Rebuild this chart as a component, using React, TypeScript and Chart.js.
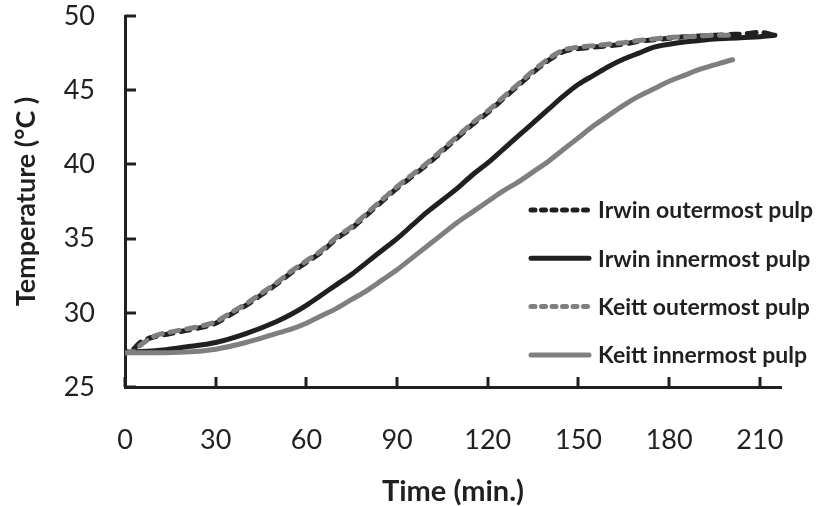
import React, { useEffect, useRef } from "react";
import { Chart, registerables } from "chart.js";

Chart.register(...registerables);

// ---- Data (time in minutes, temperature in °C) ----
const irwinOuterTime = [0, 3, 5, 10, 15, 20, 25, 30, 35, 40, 45, 50, 55, 60, 65, 70, 75, 80, 85, 90, 95, 100, 105, 110, 115, 120, 125, 130, 135, 140, 145, 150, 155, 160, 165, 170, 175, 180, 185, 190, 195, 200, 205, 210, 215];
const irwinOuterTemp = [27.3, 27.6, 28.0, 28.4, 28.6, 28.8, 29.0, 29.3, 29.9, 30.5, 31.2, 31.9, 32.7, 33.4, 34.1, 35.0, 35.7, 36.6, 37.5, 38.4, 39.2, 40.0, 40.9, 41.8, 42.7, 43.5, 44.4, 45.3, 46.2, 47.0, 47.6, 47.8, 47.9, 48.0, 48.1, 48.3, 48.4, 48.5, 48.6, 48.65, 48.7, 48.75, 48.8, 48.9, 48.7];

const irwinInnerTime = [0, 10, 20, 30, 40, 50, 55, 60, 65, 70, 75, 80, 85, 90, 95, 100, 105, 110, 115, 120, 125, 130, 135, 140, 145, 150, 155, 160, 165, 170, 175, 180, 185, 190, 195, 200, 205, 210, 215];
const irwinInnerTemp = [27.35, 27.45, 27.7, 28.0, 28.6, 29.4, 29.9, 30.5, 31.2, 31.9, 32.6, 33.4, 34.2, 35.0, 35.9, 36.8, 37.6, 38.4, 39.3, 40.1, 41.0, 41.9, 42.8, 43.7, 44.6, 45.4, 46.0, 46.6, 47.1, 47.5, 47.9, 48.1, 48.25, 48.35, 48.45, 48.5, 48.55, 48.6, 48.7];

const keittOuterTime = [0, 3, 5, 10, 15, 20, 25, 30, 35, 40, 45, 50, 55, 60, 65, 70, 75, 80, 85, 90, 95, 100, 105, 110, 115, 120, 125, 130, 135, 140, 145, 150, 155, 160, 165, 170, 175, 180, 185, 190, 195, 200, 202];
const keittOuterTemp = [27.3, 27.4, 27.8, 28.45, 28.7, 28.9, 29.1, 29.4, 30.0, 30.6, 31.3, 32.0, 32.8, 33.5, 34.2, 35.1, 35.8, 36.7, 37.6, 38.5, 39.3, 40.1, 41.0, 41.9, 42.8, 43.6, 44.5, 45.4, 46.3, 47.1, 47.7, 47.9, 48.0, 48.1, 48.2, 48.35, 48.45, 48.55, 48.6, 48.65, 48.7, 48.7, 48.7];

const keittInnerTime = [0, 10, 20, 30, 40, 50, 55, 60, 65, 70, 75, 80, 85, 90, 95, 100, 105, 110, 115, 120, 125, 130, 135, 140, 145, 150, 155, 160, 165, 170, 175, 180, 185, 190, 195, 200, 201];
const keittInnerTemp = [27.3, 27.3, 27.35, 27.55, 28.0, 28.6, 28.9, 29.3, 29.8, 30.3, 30.9, 31.5, 32.2, 32.9, 33.7, 34.5, 35.3, 36.1, 36.8, 37.5, 38.2, 38.8, 39.5, 40.2, 41.0, 41.8, 42.6, 43.3, 44.0, 44.6, 45.1, 45.6, 46.0, 46.4, 46.7, 47.0, 47.05];

const seriesLabels = ["Irwin outermost pulp", "Irwin innermost pulp", "Keitt outermost pulp", "Keitt innermost pulp"];
const xTickValues = [0, 30, 60, 90, 120, 150, 180, 210];
const yTickValues = [25, 30, 35, 40, 45, 50];
const xTitle = "Time (min.)";
const yTitle = "Temperature (°C )";

// ---- Styles ----
const DARK = "#231f20";
const GREY = "#7f7f7f";
const FONT = "Lato, 'Open Sans', sans-serif";

const pts = (t: number[], v: number[]) => t.map((x, i) => ({ x, y: v[i] }));

const inwardTicks = {
  id: "inwardTicks",
  afterDatasetsDraw(chart: any) {
    const { ctx, chartArea, scales } = chart;
    ctx.save();
    ctx.strokeStyle = DARK;
    ctx.lineWidth = 3;
    for (const t of scales.y.ticks) {
      const py = Math.round(scales.y.getPixelForValue(t.value));
      ctx.beginPath();
      ctx.moveTo(chartArea.left, py);
      ctx.lineTo(chartArea.left + 11, py);
      ctx.stroke();
    }
    for (const t of scales.x.ticks) {
      const px = Math.round(scales.x.getPixelForValue(t.value));
      ctx.beginPath();
      ctx.moveTo(px, chartArea.bottom);
      ctx.lineTo(px, chartArea.bottom - 10);
      ctx.stroke();
    }
    ctx.restore();
  },
};

const insideLegend = {
  id: "insideLegend",
  afterDraw(chart: any) {
    const { ctx, chartArea } = chart;
    const x0 = chartArea.right - 253;
    const y0 = chartArea.top + 194;
    const gap = 48.3;
    const lineLen = 64;
    ctx.save();
    chart.data.datasets.forEach((ds: any) => {
      const y = y0 + gap * ds.legendRow;
      ctx.beginPath();
      ctx.strokeStyle = ds.borderColor;
      ctx.lineWidth = 5;
      ctx.lineCap = "round";
      ctx.setLineDash(ds.legendDash);
      ctx.moveTo(x0 + 3, y);
      ctx.lineTo(x0 + lineLen - 3, y);
      ctx.stroke();
      ctx.setLineDash([]);
      ctx.fillStyle = DARK;
      ctx.font = `bold 23px ${FONT}`;
      ctx.textBaseline = "middle";
      ctx.textAlign = "left";
      ctx.fillText(ds.label, x0 + lineLen + 6, y + 1);
    });
    ctx.restore();
  },
};

export default function App() {
  const canvasRef = useRef<HTMLCanvasElement | null>(null);

  useEffect(() => {
    if (!canvasRef.current) return;
    const common = {
      pointRadius: 0,
      borderWidth: 5,
      borderCapStyle: "round",
      borderJoinStyle: "round",
      cubicInterpolationMode: "monotone",
      fill: false,
    };
    const chart = new Chart(canvasRef.current, {
      type: "line",
      data: {
        datasets: [
          { ...common, label: seriesLabels[0], data: pts(irwinOuterTime, irwinOuterTemp), borderColor: DARK, borderDash: [9, 8], borderDashOffset: 7, order: 1, legendRow: 0, legendDash: [4, 6.5] },
          { ...common, label: seriesLabels[1], data: pts(irwinInnerTime, irwinInnerTemp), borderColor: DARK, order: 3, legendRow: 1, legendDash: [] },
          { ...common, label: seriesLabels[2], data: pts(keittOuterTime, keittOuterTemp), borderColor: GREY, borderDash: [9, 8], order: 0, legendRow: 2, legendDash: [4, 6.5] },
          { ...common, label: seriesLabels[3], data: pts(keittInnerTime, keittInnerTemp), borderColor: GREY, order: 2, legendRow: 3, legendDash: [] },
        ] as any,
      },
      options: {
        animation: false,
        responsive: false,
        maintainAspectRatio: false,
        layout: { padding: { left: 0, top: 16, right: 44, bottom: 0 } },
        plugins: { legend: { display: false }, tooltip: { enabled: false } },
        scales: {
          x: {
            type: "linear",
            min: 0,
            max: 217,
            grid: { display: false, drawTicks: false },
            border: { display: true, color: DARK, width: 3 },
            ticks: {
              stepSize: 30,
              includeBounds: false,
              autoSkip: false,
              maxRotation: 0,
              padding: 37,
              color: DARK,
              font: { family: FONT, size: 27 },
            },
            afterBuildTicks: (s: any) => { s.ticks = xTickValues.map((v) => ({ value: v })); },
            title: {
              display: true,
              text: xTitle,
              color: DARK,
              font: { family: FONT, size: 29, weight: "bold", lineHeight: 1.0 },
              padding: { top: 0, bottom: 0 },
            },
            afterFit: (s: any) => { s.height = 119; s.paddingLeft = 0; s.paddingRight = 0; },
          },
          y: {
            type: "linear",
            min: 25,
            max: 50,
            grid: { display: false, drawTicks: false },
            border: { display: true, color: DARK, width: 3 },
            ticks: {
              stepSize: 5,
              padding: 30,
              color: DARK,
              font: { family: FONT, size: 27 },
            },
            afterBuildTicks: (s: any) => { s.ticks = yTickValues.map((v) => ({ value: v })); },
            title: {
              display: true,
              text: yTitle,
              color: DARK,
              font: { family: FONT, size: 27, weight: "bold", lineHeight: 1.0 },
              padding: { top: 13, bottom: 0 },
            },
            afterFit: (s: any) => { s.width = 125; s.paddingTop = 0; s.paddingBottom = 0; },
          },
        },
      } as any,
      plugins: [inwardTicks, insideLegend],
    });
    return () => chart.destroy();
  }, []);

  return (
    <div style={{ position: "absolute", left: 0, top: 0, width: 825, height: 506, background: "#fff" }}>
      <canvas ref={canvasRef} width={825} height={506} style={{ width: 825, height: 506 }} />
    </div>
  );
}
